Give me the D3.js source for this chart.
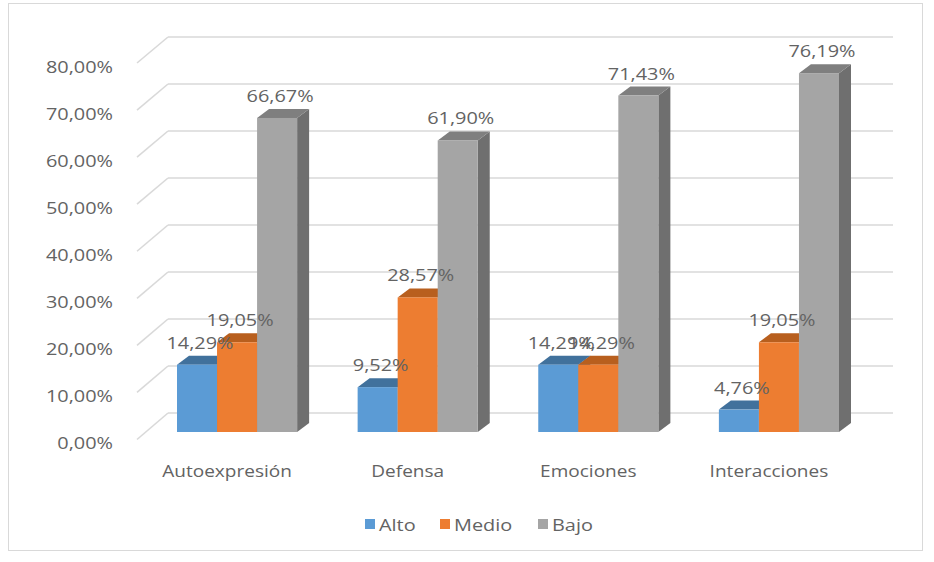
<!DOCTYPE html>
<html>
<head>
<meta charset="utf-8">
<script src="https://cdnjs.cloudflare.com/ajax/libs/d3/7.8.5/d3.min.js"></script>
<style>
  html, body { margin: 0; padding: 0; background: #fff; }
  svg { display: block; }
  text { font-family: "Open Sans", "Liberation Sans", sans-serif; fill: #636363; }
</style>
</head>
<body>
<svg id="chart" width="934" height="562"></svg>
<script>
// ---- data ----
const categories = ["Autoexpresión", "Defensa", "Emociones", "Interacciones"];
const seriesNames = ["Alto", "Medio", "Bajo"];
const alto  = [0.1429, 0.0952, 0.1429, 0.0476];
const medio = [0.1905, 0.2857, 0.1429, 0.1905];
const bajo  = [0.6667, 0.6190, 0.7143, 0.7619];
const yTicks = [0, 0.1, 0.2, 0.3, 0.4, 0.5, 0.6, 0.7, 0.8];

const seriesValues = [alto, medio, bajo];
const frontColors = ["#5B9BD5", "#ED7D31", "#A5A5A5"];
const topColors   = ["#41719C", "#B85F1E", "#7F7F7F"];
const sideColors  = ["#3E6A94", "#AE5A1C", "#6F6F6F"];

const locale = d3.formatLocale({decimal: ",", thousands: ".", grouping: [3], currency: ["", "€"]});
const fmt = locale.format(".2%");

const svg = d3.select("#chart");

// frame
svg.append("rect").attr("x", 8.5).attr("y", 3.5).attr("width", 914).attr("height", 547)
  .attr("fill", "#fff").attr("stroke", "#d9d9d9").attr("stroke-width", 1);

// scales
const yBar   = d3.scaleLinear().domain([0, 0.8]).range([432, 432 - 8 * 47.1]);
const yFront = d3.scaleLinear().domain([0, 0.8]).range([439.5, 63]);
const yBack  = d3.scaleLinear().domain([0, 0.8]).range([413, 37]);
const x0 = d3.scaleBand().domain(categories).range([177, 839]).paddingInner(0.335).paddingOuter(0);
const x1 = d3.scaleBand().domain(seriesNames).range([0, x0.bandwidth()]).padding(0);

const depthDx = 12, depthDy = -9;
const wallLeft = 137, wallBack = 168, wallRight = 893;

function txt(g, x, y, s, size, sx, anchor) {
  return g.append("text")
    .attr("transform", `translate(${x},${y}) scale(${sx},1)`)
    .attr("text-anchor", anchor || "middle")
    .attr("font-size", size)
    .text(s);
}

// gridlines
const grid = svg.append("g").attr("stroke", "#d9d9d9").attr("stroke-width", 1.6).attr("fill", "none");
yTicks.forEach(v => {
  grid.append("line").attr("x1", wallBack).attr("x2", wallRight)
    .attr("y1", yBack(v)).attr("y2", yBack(v));
  grid.append("line").attr("x1", wallLeft).attr("y1", yFront(v))
    .attr("x2", wallBack).attr("y2", yBack(v));
});

// y tick labels
const yAx = svg.append("g");
yTicks.forEach(v => {
  txt(yAx, 113, yFront(v) + 9.5, fmt(v), 17, 1.17, "end");
});

// bars
const bars = svg.append("g");
categories.forEach((c, ci) => {
  seriesNames.forEach((s, si) => {
    const v = seriesValues[si][ci];
    const xl = x0(c) + x1(s);
    const w = x1.bandwidth();
    const yt = yBar(v), yb = yBar(0);
    const g = bars.append("g");
    g.append("polygon")
      .attr("points", [[xl + w, yb], [xl + w + depthDx, yb + depthDy], [xl + w + depthDx, yt + depthDy], [xl + w, yt]].join(" "))
      .attr("fill", sideColors[si]);
    g.append("polygon")
      .attr("points", [[xl, yt], [xl + depthDx, yt + depthDy], [xl + w + depthDx, yt + depthDy], [xl + w, yt]].join(" "))
      .attr("fill", topColors[si]);
    g.append("rect").attr("x", xl).attr("y", yt).attr("width", w).attr("height", yb - yt)
      .attr("fill", frontColors[si]);
  });
});

// data labels
const labels = svg.append("g");
categories.forEach((c, ci) => {
  seriesNames.forEach((s, si) => {
    const v = seriesValues[si][ci];
    const cx = x0(c) + x1(s) + x1.bandwidth() / 2 + 3;
    txt(labels, cx, yBar(v) - 16, fmt(v), 17, 1.17, "middle");
  });
});

// category labels
const xAx = svg.append("g");
categories.forEach(c => {
  txt(xAx, x0(c) + x0.bandwidth() / 2 - 10, 476.5, c, 17, 1.12, "middle");
});

// legend
const legend = svg.append("g");
const legendX = [365, 440, 538];
seriesNames.forEach((s, si) => {
  legend.append("rect").attr("x", legendX[si]).attr("y", 519).attr("width", 10).attr("height", 10)
    .attr("fill", frontColors[si]);
  txt(legend, legendX[si] + 14, 530.5, s, 17, 1.17, "start");
});
</script>
</body>
</html>
